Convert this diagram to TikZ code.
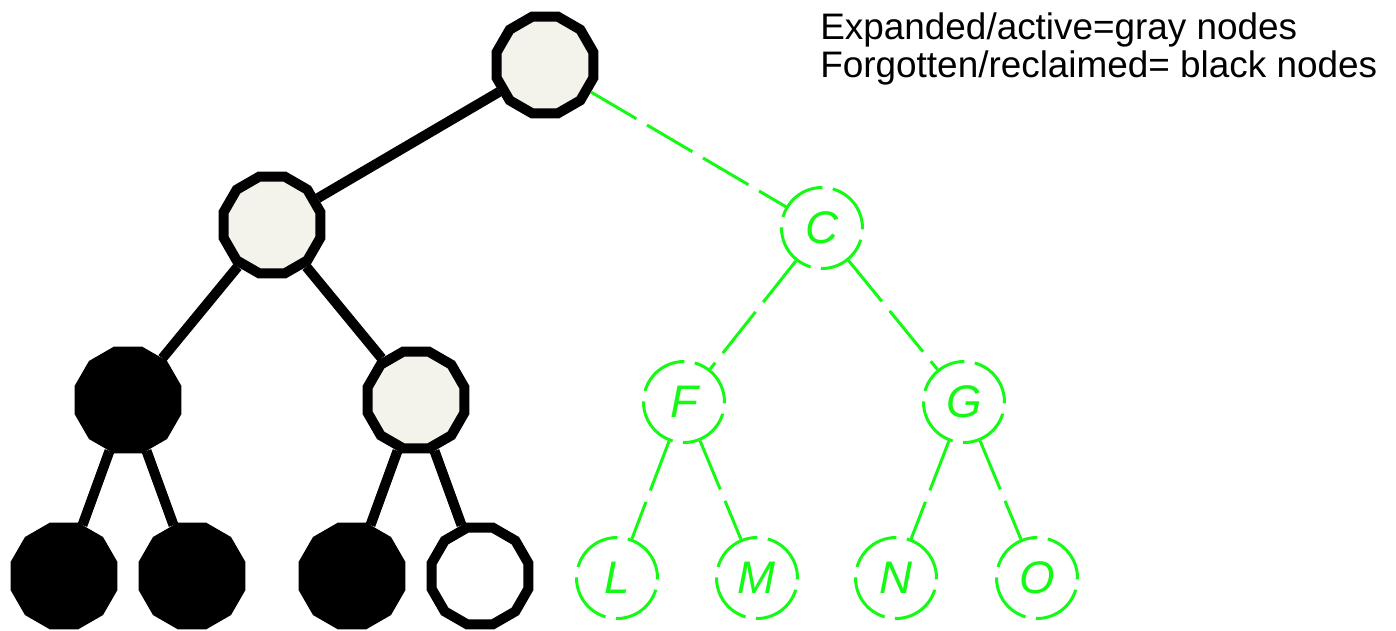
\documentclass[tikz,border=0pt]{standalone}
\usepackage{fontspec}
\setmainfont{Liberation Sans}
\usetikzlibrary{shapes.geometric}
\definecolor{nodegray}{RGB}{243,243,236}
\definecolor{lime}{RGB}{20,250,20}

\begin{document}
\begin{tikzpicture}[x=0.02cm, y=-0.02cm,
    tnode/.style={regular polygon, regular polygon sides=12, minimum size=2cm, inner sep=0pt, line width=5.7pt, draw=black},
    active/.style={tnode, fill=nodegray},
    reclaimed/.style={tnode, fill=black},
    fresh/.style={tnode, fill=white},
    ghost/.style={circle, draw=lime, line width=1.7pt, dash pattern=on 30pt off 6pt, minimum size=1.62cm, inner sep=0pt, text=lime, font=\fontsize{26}{26}\selectfont\itshape},
    treeline/.style={line width=5.7pt},
    ghostline/.style={draw=lime, line width=1.7pt, dash pattern=on 30pt off 7pt}]

    \useasboundingbox (0,0) rectangle (1396,630);

    % Expanded part of the tree
    \node[active] (root) at (545,65) {};
    \node[active] (b) at (272,225) {};
    \node[reclaimed] (d) at (128,400) {};
    \node[active] (e) at (416,400) {};
    \node[reclaimed] (h) at (64,576) {};
    \node[reclaimed] (i) at (192,576) {};
    \node[reclaimed] (j) at (352,576) {};
    \node[fresh] (k) at (480,576) {};

    \draw[treeline] (root) -- (b);
    \draw[treeline] (b) -- (d);
    \draw[treeline] (b) -- (e);
    \draw[treeline] (d) -- (h);
    \draw[treeline] (d) -- (i);
    \draw[treeline] (e) -- (j);
    \draw[treeline] (e) -- (k);

    % Not yet expanded part
    \node[ghost] (c) at (822,228) {C};
    \node[ghost] (f) at (684,402) {F};
    \node[ghost] (g) at (964,402) {G};
    \node[ghost] (l) at (617,578) {L};
    \node[ghost] (m) at (757,578) {M};
    \node[ghost] (n) at (896,578) {N};
    \node[ghost] (o) at (1037,578) {O};

    \draw[ghostline] (root) -- (c);
    \draw[ghostline] (c) -- (f);
    \draw[ghostline] (c) -- (g);
    \draw[ghostline] (f) -- (l);
    \draw[ghostline] (f) -- (m);
    \draw[ghostline] (g) -- (n);
    \draw[ghostline] (g) -- (o);

    % Legend
    \node[anchor=base west, align=left, inner sep=0pt, font=\fontsize{21}{21.5}\selectfont] (legend) at (820,77)
        {Expanded/active=gray nodes\\Forgotten/reclaimed= black nodes};

\end{tikzpicture}
\end{document}
